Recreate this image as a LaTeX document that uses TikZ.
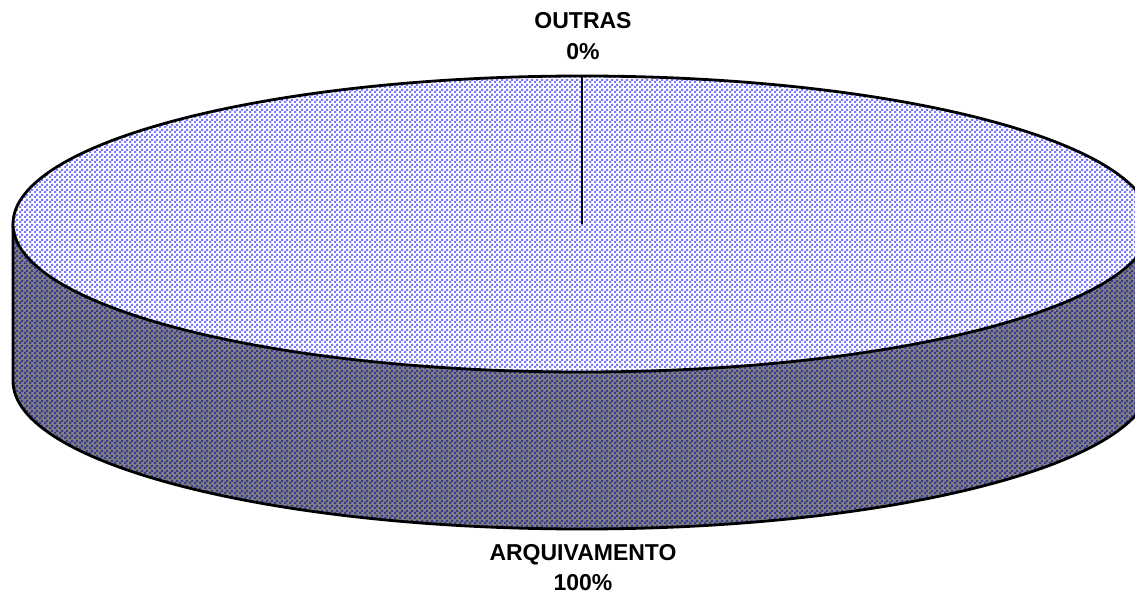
\documentclass[tikz,border=0pt]{standalone}
\usepackage{fontspec}
\setmainfont{Liberation Sans}
\usetikzlibrary{patterns}
\definecolor{topdot}{RGB}{120,120,255}
\definecolor{sidegray}{RGB}{128,128,128}
\definecolor{sidedot}{RGB}{55,55,150}
\pgfdeclarepatternformonly{piedots}{\pgfqpoint{0pt}{0pt}}{\pgfqpoint{4.6pt}{4.6pt}}{\pgfqpoint{4.6pt}{4.6pt}}{%
    \pgfpathrectangle{\pgfqpoint{0.1pt}{0.1pt}}{\pgfqpoint{2.2pt}{2.2pt}}%
    \pgfpathrectangle{\pgfqpoint{2.4pt}{2.4pt}}{\pgfqpoint{2.2pt}{2.2pt}}%
    \pgfusepath{fill}}
\tikzset{
    lbl/.style={font=\fontsize{23}{31}\selectfont\bfseries, inner sep=0pt, anchor=base},
    rim/.style={line width=2.8pt, line join=round},
    sidefill/.style={fill=sidegray, postaction={pattern=piedots, pattern color=sidedot}},
    topfill/.style={fill=white, postaction={pattern=piedots, pattern color=topdot}}
}
\begin{document}
\begin{tikzpicture}[x=1pt,y=1pt]
    \useasboundingbox (0,0) rectangle (1135,-593);
    \clip (0,0) rectangle (1135,-593);
    \coordinate (c) at (582,-224);
    \coordinate (top) at (582,-76);
    % side of the pie
    \path[sidefill] (13,-224) -- (13,-381)
        arc[start angle=180, end angle=360, x radius=569pt, y radius=148pt]
        -- (1151,-224)
        arc[start angle=0, end angle=-180, x radius=569pt, y radius=148pt] -- cycle;
    \draw[rim] (13,-224) -- (13,-381)
        arc[start angle=180, end angle=360, x radius=569pt, y radius=148pt] -- (1151,-224);
    % top of the pie
    \path[topfill] (c) ellipse[x radius=569pt, y radius=148pt];
    \draw[rim] (c) ellipse[x radius=569pt, y radius=148pt];
    \draw[line width=2.2pt] (c) -- (top);
    % labels
    \node[lbl] (outras) at (583,-29) {OUTRAS};
    \node[lbl] (outraspct) at ([yshift=-31pt]outras.base) {0\%};
    \node[lbl] (arq) at (583,-560) {ARQUIVAMENTO};
    \node[lbl] (arqpct) at ([yshift=-30pt]arq.base) {100\%};
\end{tikzpicture}
\end{document}
